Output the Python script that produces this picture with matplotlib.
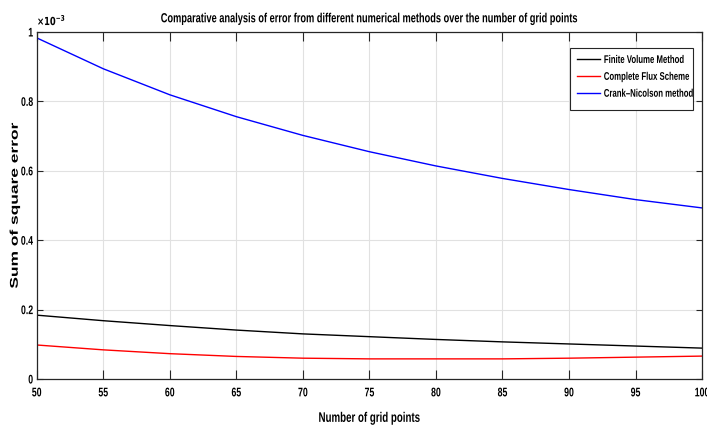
import numpy as np
import matplotlib.pyplot as plt
import matplotlib.patheffects as pe
from matplotlib.transforms import Affine2D
from matplotlib.patches import Rectangle

plt.rcParams['font.family'] = ['Liberation Sans', 'DejaVu Sans']
plt.rcParams['font.weight'] = 'bold'

n_puntos = [50, 55, 60, 65, 70, 75, 80, 85, 90, 95, 100]
# errores en unidades de 1e-3
fvm = [0.184, 0.168, 0.154, 0.141, 0.130, 0.122, 0.114, 0.107, 0.101, 0.095, 0.089]
cfs = [0.098, 0.084, 0.073, 0.065, 0.060, 0.058, 0.058, 0.058, 0.060, 0.063, 0.066]
cn = [0.983, 0.894, 0.819, 0.756, 0.702, 0.655, 0.614, 0.578, 0.546, 0.517, 0.493]
nombres = ['Finite Volume Method', 'Complete Flux Scheme', 'Crank\u2013Nicolson method']


class Comprimir(pe.AbstractPathEffect):
    # aprieta el texto en horizontal (la figura original esta achatada)
    def __init__(self, sx=0.7, ancla='center'):
        super().__init__()
        self.sx = sx
        self.ancla = ancla

    def draw_path(self, renderer, gc, tpath, affine, rgbFace=None):
        caja = tpath.get_extents(affine)
        if self.ancla == 'left':
            cx = caja.x0
        elif self.ancla == 'right':
            cx = caja.x1
        else:
            cx = (caja.x0 + caja.x1) / 2
        t = affine + Affine2D().translate(-cx, 0).scale(self.sx, 1).translate(cx, 0)
        renderer.draw_path(gc, tpath, t, rgbFace)


fig = plt.figure(figsize=(7.07, 4.30), dpi=100)
ax = fig.add_axes([0.052, 0.1186, 0.941, 0.807])

ax.plot(n_puntos, fvm, color='k', lw=1.0, label=nombres[0])
ax.plot(n_puntos, cfs, color='r', lw=1.0, label=nombres[1])
ax.plot(n_puntos, cn, color='b', lw=1.0, label=nombres[2])

ax.set_xlim(50, 100)
ax.set_ylim(0, 1)
ax.set_xticks(np.arange(50, 101, 5))
ax.set_yticks([0, 0.2, 0.4, 0.6, 0.8, 1])
ax.set_yticklabels(['0', '0.2', '0.4', '0.6', '0.8', '1'])
ax.grid(True, color='#e1e1e1', lw=0.8)
ax.set_axisbelow(True)
ax.tick_params(direction='in', top=True, right=True, color='#262626', labelsize=9, width=0.8)
ax.tick_params(axis='x', length=6.5, pad=6)
ax.tick_params(axis='y', length=4.3, pad=2.5)
for lab in ax.get_xticklabels():
    lab.set_path_effects([Comprimir(0.7, 'center')])
for lab in ax.get_yticklabels():
    lab.set_path_effects([Comprimir(0.7, 'right')])
for s in ax.spines.values():
    s.set_color('#262626')
    s.set_linewidth(0.9)

tit = ax.set_title('Comparative analysis of error from different numerical methods over the number of grid points',
                   fontsize=9.5, fontweight='bold', pad=7)
tit.set_path_effects([Comprimir(0.7, 'center')])

ax.set_xlabel('Number of grid points', fontsize=10, fontweight='bold')
ax.xaxis.set_label_coords(0.5, -0.112)
ax.xaxis.label.set_va('center')
ax.xaxis.label.set_path_effects([Comprimir(0.7, 'center')])

ax.set_ylabel('Sum of square error', fontsize=12.5, fontweight='bold')
ax.yaxis.set_label_coords(-0.033, 0.5)
ax.yaxis.label.set_va('center')
ax.yaxis.label.set_path_effects([Comprimir(0.65, 'center')])

exp = ax.text(0.0, 1.01, r'$\times10^{-3}$', transform=ax.transAxes, fontsize=8,
              ha='left', va='bottom', fontweight='normal')
exp.set_path_effects([Comprimir(0.75, 'left')])

# leyenda sin marco propio; el marco se dibuja aparte porque el texto va apretado
leg = ax.legend(loc='upper left', bbox_to_anchor=(0.8015, 0.954), fontsize=8,
                frameon=False, handlelength=2.1, handletextpad=0.3, borderpad=0.63,
                borderaxespad=0, labelspacing=0.62)
for t in leg.get_texts():
    t.set_path_effects([Comprimir(0.7, 'left')])
ax.add_patch(Rectangle((0.8015, 0.775), 0.185, 0.179, transform=ax.transAxes,
                       facecolor='white', edgecolor='#262626', lw=0.8, zorder=4))
leg.set_zorder(5)

plt.savefig('out.png', dpi=100)
